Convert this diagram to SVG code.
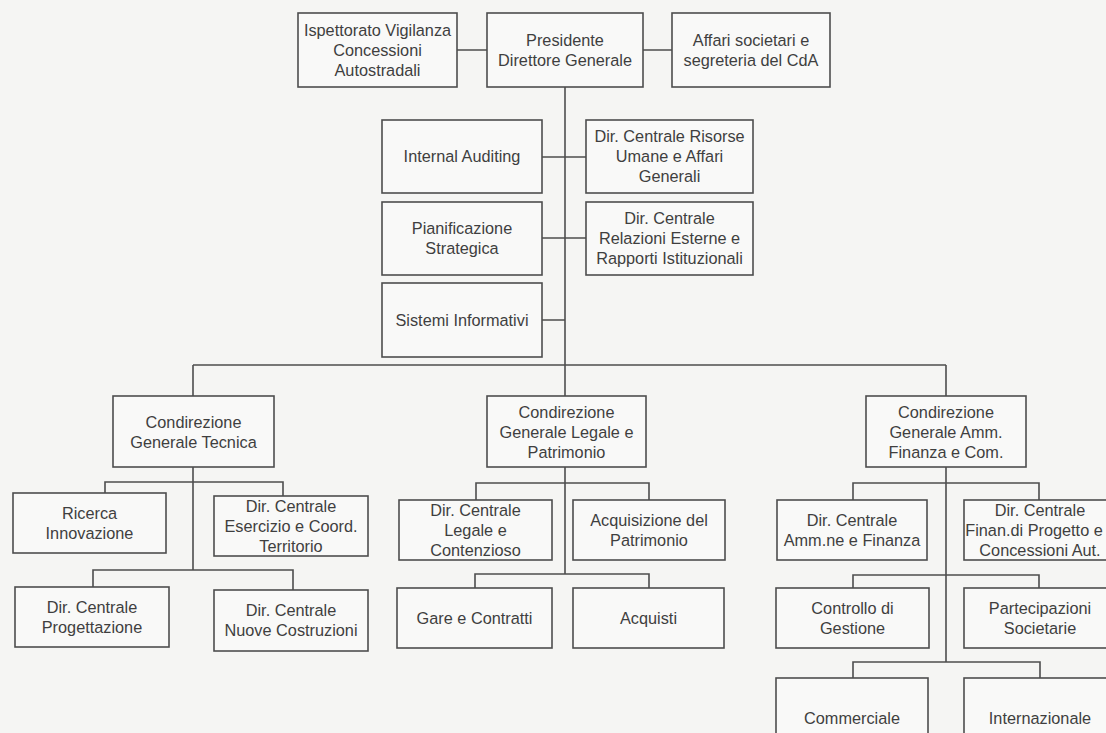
<svg xmlns="http://www.w3.org/2000/svg" width="1106" height="733" viewBox="0 0 1106 733">
<style>
.bg{fill:#f5f5f3}
.box{fill:#f9f9f8;stroke:#4e4e4e;stroke-width:1.6}
.t{font-family:"Liberation Sans",Arial,sans-serif;font-size:16.3px;fill:#3f3f3f;text-anchor:middle}
.c{fill:none;stroke:#4e4e4e;stroke-width:1.6}
</style>
<rect class="bg" x="0" y="0" width="1106" height="733"/>
<g id="connectors" class="c">
<path d="M457,50H487M643,50H672"/>
<path d="M565,87V396"/>
<path d="M542,157H586M542,238H586M542,320H565"/>
<path d="M193,365H946M193,365V396M946,365V396"/>
<path d="M193,467V570M105,493V482H283V496M93,587V570H293V590"/>
<path d="M565,467V574M476,500V483H649V500M475,588V574H649V588"/>
<path d="M946,467V662M853,500V483H1039V500M853,588V575H1039V588M853,678V662H1040V678"/>
</g>
<g id="ispettorato"><rect class="box" x="298" y="13" width="159" height="74"/><text class="t" x="377.5" y="36">Ispettorato Vigilanza</text><text class="t" x="377.5" y="56">Concessioni</text><text class="t" x="377.5" y="76">Autostradali</text></g>
<g id="presidente"><rect class="box" x="487" y="13" width="156" height="74"/><text class="t" x="565" y="46">Presidente</text><text class="t" x="565" y="66">Direttore Generale</text></g>
<g id="affari"><rect class="box" x="672" y="13" width="158" height="74"/><text class="t" x="751" y="46">Affari societari e</text><text class="t" x="751" y="66">segreteria del CdA</text></g>
<g id="internal"><rect class="box" x="382" y="120" width="160" height="73"/><text class="t" x="462" y="162">Internal Auditing</text></g>
<g id="risorse"><rect class="box" x="586" y="120" width="167" height="73"/><text class="t" x="669.5" y="142">Dir. Centrale Risorse</text><text class="t" x="669.5" y="162">Umane e Affari</text><text class="t" x="669.5" y="182">Generali</text></g>
<g id="pianificazione"><rect class="box" x="382" y="202" width="160" height="73"/><text class="t" x="462" y="234">Pianificazione</text><text class="t" x="462" y="254">Strategica</text></g>
<g id="relazioni"><rect class="box" x="586" y="202" width="167" height="73"/><text class="t" x="669.5" y="224">Dir. Centrale</text><text class="t" x="669.5" y="244">Relazioni Esterne e</text><text class="t" x="669.5" y="264">Rapporti Istituzionali</text></g>
<g id="sistemi"><rect class="box" x="382" y="283" width="160" height="74"/><text class="t" x="462" y="326">Sistemi Informativi</text></g>
<g id="cg-tecnica"><rect class="box" x="113" y="396" width="161" height="71"/><text class="t" x="193.5" y="428">Condirezione</text><text class="t" x="193.5" y="448">Generale Tecnica</text></g>
<g id="cg-legale"><rect class="box" x="487" y="396" width="159" height="71"/><text class="t" x="566.5" y="418">Condirezione</text><text class="t" x="566.5" y="438">Generale Legale e</text><text class="t" x="566.5" y="458">Patrimonio</text></g>
<g id="cg-amm"><rect class="box" x="866" y="396" width="160" height="71"/><text class="t" x="946" y="418">Condirezione</text><text class="t" x="946" y="438">Generale Amm.</text><text class="t" x="946" y="458">Finanza e Com.</text></g>
<g id="ricerca"><rect class="box" x="13" y="493" width="153" height="60"/><text class="t" x="89.5" y="519">Ricerca</text><text class="t" x="89.5" y="539">Innovazione</text></g>
<g id="esercizio"><rect class="box" x="214" y="496" width="154" height="60"/><text class="t" x="291" y="512">Dir. Centrale</text><text class="t" x="291" y="532">Esercizio e Coord.</text><text class="t" x="291" y="552">Territorio</text></g>
<g id="progettazione"><rect class="box" x="15" y="587" width="154" height="60"/><text class="t" x="92" y="613">Dir. Centrale</text><text class="t" x="92" y="633">Progettazione</text></g>
<g id="nuove"><rect class="box" x="214" y="590" width="154" height="61"/><text class="t" x="291" y="616">Dir. Centrale</text><text class="t" x="291" y="636">Nuove Costruzioni</text></g>
<g id="legale"><rect class="box" x="399" y="500" width="153" height="60"/><text class="t" x="475.5" y="516">Dir. Centrale</text><text class="t" x="475.5" y="536">Legale e</text><text class="t" x="475.5" y="556">Contenzioso</text></g>
<g id="acquisizione"><rect class="box" x="573" y="500" width="152" height="60"/><text class="t" x="649" y="526">Acquisizione del</text><text class="t" x="649" y="546">Patrimonio</text></g>
<g id="gare"><rect class="box" x="397" y="588" width="155" height="60"/><text class="t" x="474.5" y="624">Gare e Contratti</text></g>
<g id="acquisti"><rect class="box" x="573" y="588" width="151" height="60"/><text class="t" x="648.5" y="624">Acquisti</text></g>
<g id="ammne"><rect class="box" x="777" y="500" width="150" height="60"/><text class="t" x="852" y="526">Dir. Centrale</text><text class="t" x="852" y="546">Amm.ne e Finanza</text></g>
<g id="finan"><rect class="box" x="964" y="500" width="152" height="60"/><text class="t" x="1040" y="516">Dir. Centrale</text><text class="t" x="1034" y="536">Finan.di Progetto e</text><text class="t" x="1040" y="556">Concessioni Aut.</text></g>
<g id="controllo"><rect class="box" x="776" y="588" width="153" height="60"/><text class="t" x="852.5" y="614">Controllo di</text><text class="t" x="852.5" y="634">Gestione</text></g>
<g id="partecipazioni"><rect class="box" x="964" y="588" width="152" height="60"/><text class="t" x="1040" y="614">Partecipazioni</text><text class="t" x="1040" y="634">Societarie</text></g>
<g id="commerciale"><rect class="box" x="776" y="678" width="152" height="80"/><text class="t" x="852" y="724">Commerciale</text></g>
<g id="internazionale"><rect class="box" x="964" y="678" width="152" height="80"/><text class="t" x="1040" y="724">Internazionale</text></g>
</svg>
